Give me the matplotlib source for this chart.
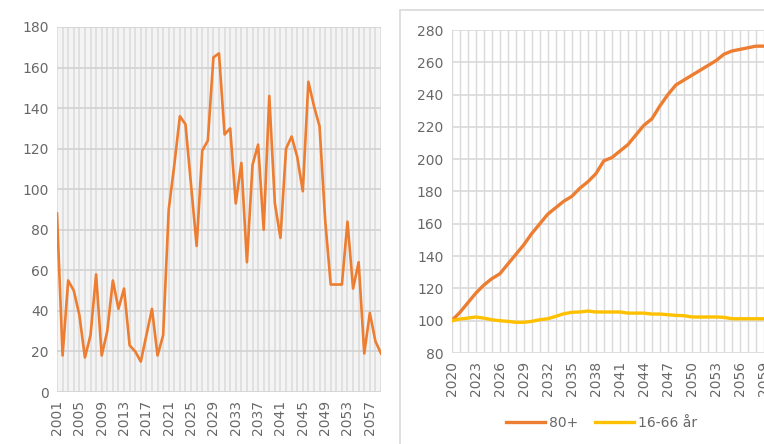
import numpy as np
import matplotlib
matplotlib.use("Agg")
import matplotlib.pyplot as plt
from matplotlib.patches import Rectangle

# left chart: yearly values 2001-2059
years_left = list(range(2001, 2060))
values_left = [88, 18, 55, 50, 38, 17, 28, 58, 18, 30,
               55, 41, 51, 23, 20, 15, 28, 41, 18, 28,
               90, 112, 136, 132, 102, 72, 119, 124, 165, 167,
               127, 130, 93, 113, 64, 112, 122, 80, 146, 93,
               76, 120, 126, 116, 99, 153, 141, 131, 85, 53,
               53, 53, 84, 51, 64, 19, 39, 25, 19]

# right chart: index 2020 = 100
years_right = list(range(2020, 2060))
age_80 = [100, 105, 111, 117, 122, 126, 129, 135, 141, 147,
          154, 160, 166, 170, 174, 177, 182, 186, 191, 199,
          201, 205, 209, 215, 221, 225, 233, 240, 246, 249,
          252, 255, 258, 261, 265, 267, 268, 269, 270, 270]
age_16_66 = [100, 101, 101.6, 102.3, 101.6, 100.6, 100, 99.6, 99, 99,
             99.6, 100.6, 101.2, 102.7, 104.3, 105.2, 105.4, 106, 105.4, 105.4,
             105.4, 105.4, 104.7, 104.7, 104.7, 104.1, 104.1, 103.7, 103.3, 103.1,
             102.3, 102.3, 102.3, 102.3, 102.1, 101.2, 101.2, 101.2, 101.2, 101.2]
legend_labels = ["80+", "16-66 år"]

orange = "#ED7D31"
yellow = "#FFC000"
text_col = "#686868"
grid_col = "#d9d9d9"

W, H = 764, 444
fig = plt.figure(figsize=(W / 100, H / 100), dpi=100)
fig.patch.set_facecolor("white")

# ---- left chart
ax1 = fig.add_axes([57 / W, 1 - 392 / H, (381 - 57) / W, (392 - 27) / H])
ax1.set_facecolor("#f4f4f4")
for x in years_left:
    ax1.axvline(x, color="#dcdcdc", lw=1.2, zorder=0)
ax1.set_yticks(np.arange(0, 181, 20))
ax1.yaxis.grid(True, color="#d2d2d2", lw=1.2)
ax1.set_axisbelow(True)
ax1.plot(years_left, values_left, color=orange, lw=1.9, zorder=3)
ax1.set_xlim(2001, 2059)
ax1.set_ylim(0, 180)
ax1.set_xticks(years_left[::4])
ax1.set_xticklabels([str(y) for y in years_left[::4]], rotation=90)
ax1.tick_params(length=0, labelsize=10, colors=text_col, pad=6)
for s in ax1.spines.values():
    s.set_visible(False)

# ---- right chart frame
fig.patches.append(Rectangle((400 / W, -0.05), 0.5, 1.05 - 10 / H,
                             transform=fig.transFigure, fill=False,
                             edgecolor="#d9d9d9", lw=1.2))

ax2 = fig.add_axes([451.7 / W, 1 - 353 / H, (W - 451.7) / W, (353 - 30) / H])
ax2.set_facecolor("white")
for x in years_right:
    ax2.axvline(x, color=grid_col, lw=1.0, zorder=0)
ax2.set_yticks(np.arange(80, 281, 20))
ax2.yaxis.grid(True, color=grid_col, lw=1.2)
ax2.set_axisbelow(True)
l1, = ax2.plot(years_right, age_80, color=orange, lw=2.4, zorder=3)
l2, = ax2.plot(years_right, age_16_66, color=yellow, lw=2.4, zorder=3)
ax2.set_xlim(2020, 2059)
ax2.set_ylim(80, 280)
ax2.set_xticks(years_right[::3])
ax2.set_xticklabels([str(y) for y in years_right[::3]], rotation=90)
ax2.tick_params(length=0, labelsize=10, colors=text_col, pad=6)
for s in ax2.spines.values():
    s.set_visible(False)

fig.legend([l1, l2], legend_labels, loc="center", ncol=2,
           bbox_to_anchor=(602 / W, 1 - 423 / H), frameon=False,
           handlelength=2.8, columnspacing=1.2, handletextpad=0.3,
           fontsize=10, labelcolor=text_col)

fig.savefig("out.png", dpi=100)
